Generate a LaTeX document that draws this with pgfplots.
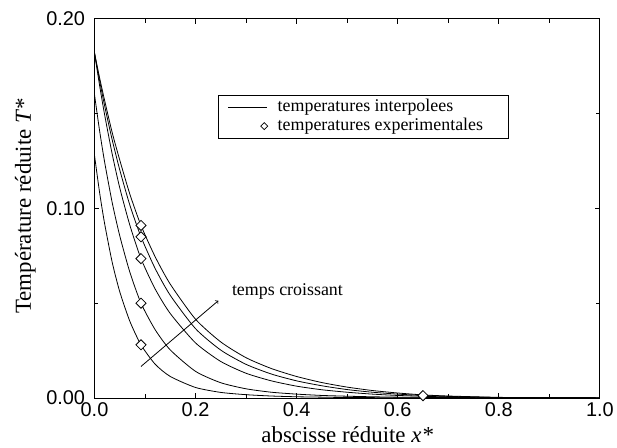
\documentclass[border=0pt]{standalone}
\usepackage{fontspec}
\setmainfont{Liberation Serif}
\setsansfont{Liberation Sans}
\usepackage{pgfplots}
\pgfplotsset{compat=1.18}

\begin{document}
\begin{tikzpicture}
\begin{axis}[
  name=ax,
  scale only axis, width=508pt, height=381pt,
  xmin=0, xmax=1, ymin=0, ymax=0.2,
  xtick={0,0.2,0.4,0.6,0.8,1.0}, minor xtick={0.1,0.3,0.5,0.7,0.9},
  ytick={0,0.1,0.2}, minor ytick={0.05,0.15},
  xticklabels={0.0,0.2,0.4,0.6,0.8,1.0},
  yticklabels={0.00,0.10,0.20},
  scaled y ticks=false, scaled x ticks=false,
  tick align=inside, major tick length=5pt, minor tick length=4pt,
  tick style={black, line width=0.8pt},
  axis line style={line width=0.8pt},
  ticklabel style={font=\sffamily\fontsize{20}{22}\selectfont},
  xticklabel style={yshift=-1pt},
  yticklabel style={xshift=-6pt},
  xlabel={abscisse réduite \textit{x*}},
  ylabel={Température réduite \textit{T*}},
  xlabel style={font=\fontsize{23}{26}\selectfont, at={(axis description cs:0.5,-0.118)}, anchor=base},
  ylabel style={font=\fontsize{23}{26}\selectfont, at={(axis description cs:-0.126,0.505)}, anchor=base},
  legend style={at={(axis cs:0.244,0.1601)}, anchor=north west, draw=black, line width=0.6pt,
    font=\fontsize{18}{20}\selectfont, row sep=0pt, column sep=10pt,
    inner xsep=10pt, inner ysep=3pt,
    nodes={inner sep=0pt, text height=14pt, text depth=5pt}},
  legend cell align=left,
  every axis plot/.append style={line width=0.8pt},
]
\addlegendimage{legend image code/.code={\draw[black, line width=0.8pt] (0pt,0pt) -- (39pt,0pt);}}
\addlegendentry{temperatures interpolees}
\addlegendimage{legend image code/.code={\path[draw=none] (0pt,0pt) (39pt,0pt); \path plot[mark=square*, mark size=2.5pt, mark options={rotate=45, fill=white, draw=black, line width=0.8pt}] coordinates {(36pt,0pt)};}}
\addlegendentry{temperatures experimentales\hspace*{15pt}}

% curve A
\addplot[black, smooth, tension=0.4, forget plot] coordinates {
(0,0.128) (0.01,0.1085) (0.02,0.0920) (0.035,0.0716) (0.05,0.0560) (0.07,0.0404) (0.092,0.028)
(0.12,0.0178) (0.15,0.0113) (0.2,0.0055) (0.25,0.0029) (0.3,0.0017) (0.35,0.0010) (0.4,0.0006)
(0.45,0.0004) (0.5,0.0002) (0.6,0.0001) (0.7,0.0) (0.85,0.0) (1.0,0.0)};
% curve B
\addplot[black, smooth, tension=0.4, forget plot] coordinates {
(0,0.160) (0.01,0.1411) (0.02,0.1245) (0.035,0.1031) (0.05,0.0855) (0.07,0.0663) (0.092,0.050)
(0.12,0.0360) (0.15,0.0253) (0.2,0.0140) (0.25,0.0080) (0.3,0.0048) (0.35,0.0030) (0.4,0.0020)
(0.45,0.0013) (0.5,0.0009) (0.55,0.0006) (0.6,0.0004) (0.65,0.0003) (0.7,0.0002) (0.8,0.0001) (1.0,0.0)};
% curve C
\addplot[black, smooth, tension=0.4, forget plot] coordinates {
(0,0.182) (0.01,0.165) (0.02,0.1495) (0.035,0.1287) (0.05,0.1108) (0.07,0.0911) (0.092,0.0735)
(0.12,0.0575) (0.15,0.0445) (0.2,0.0290) (0.25,0.0192) (0.3,0.0130) (0.35,0.0090) (0.4,0.0062)
(0.45,0.0043) (0.5,0.0030) (0.55,0.0020) (0.6,0.0013) (0.65,0.0009) (0.7,0.0005) (0.8,0.0002) (0.9,0.0001) (1.0,0.0)};
% curve D
\addplot[black, smooth, tension=0.4, forget plot] coordinates {
(0,0.182) (0.01,0.1675) (0.02,0.1542) (0.035,0.1362) (0.05,0.1203) (0.07,0.1017) (0.092,0.085)
(0.12,0.0683) (0.15,0.0541) (0.2,0.0365) (0.25,0.0252) (0.3,0.0177) (0.35,0.0126) (0.4,0.0090)
(0.45,0.0064) (0.5,0.0044) (0.55,0.0030) (0.6,0.0020) (0.65,0.0013) (0.7,0.0008) (0.8,0.0002) (0.9,0.0001) (1.0,0.0)};
% curve E
\addplot[black, smooth, tension=0.4, forget plot] coordinates {
(0,0.182) (0.01,0.169) (0.02,0.157) (0.035,0.140) (0.05,0.1255) (0.07,0.1075) (0.092,0.091)
(0.12,0.0745) (0.15,0.0600) (0.2,0.0415) (0.25,0.0295) (0.3,0.0212) (0.35,0.0155) (0.4,0.0113)
(0.45,0.0081) (0.5,0.0057) (0.55,0.0039) (0.6,0.0026) (0.65,0.0016) (0.7,0.0010) (0.8,0.0003) (0.9,0.0001) (1.0,0.0)};

% experimental points
\addplot[only marks, mark=square*, mark size=3.6pt, mark options={rotate=45, fill=white, draw=black, line width=0.8pt}, forget plot] coordinates {
(0.092,0.091) (0.092,0.085) (0.092,0.0735) (0.092,0.050) (0.092,0.028) (0.65,0.0012)};

% arrow
\addplot[black, line width=0.8pt, ->, forget plot] coordinates {(0.092,0.0166) (0.245,0.0513)};
\node[anchor=base west, font=\fontsize{18}{20}\selectfont, inner sep=0pt] at (axis cs:0.2717,0.0542) {temps croissant};
\end{axis}
\path (ax.south west) ++(-95pt,-50pt) coordinate (bl);
\path (ax.north east) ++(14pt,19pt) coordinate (tr);
\path (bl) rectangle (tr);
\end{tikzpicture}
\end{document}
